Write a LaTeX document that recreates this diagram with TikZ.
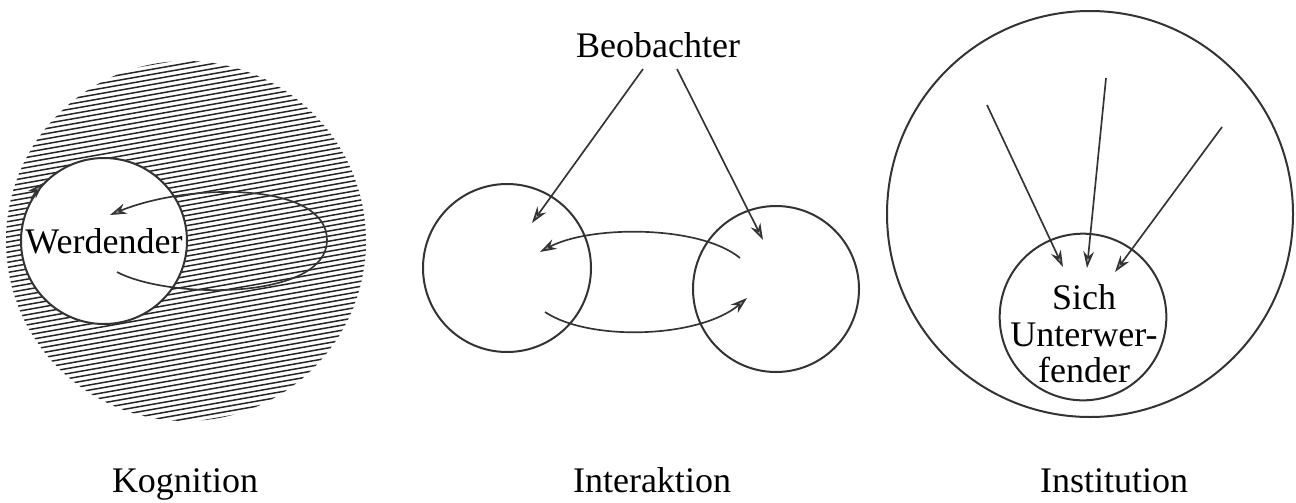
\documentclass[tikz,border=0pt]{standalone}
\usepackage{fontspec}
\setmainfont{Liberation Serif}
\usetikzlibrary{positioning,arrows.meta}

\tikzset{
  disk/.style={circle, draw=black!80, line width=0.6pt, inner sep=0pt},
  arr/.style={draw=black!80, line width=0.5pt,
    -{Stealth[length=5pt,width=3.2pt,fill=black!40]}},
  hatch/.style={draw=black!85, line width=0.45pt},
  lbl/.style={font=\fontsize{10.8}{11}\selectfont, inner sep=0pt}
}

\begin{document}
\begin{tikzpicture}[x=0.3pt,y=-0.3pt]
  \useasboundingbox (0,0) rectangle (1296,502);

  % --- Kognition: hatched field ---
  \begin{scope}
    \clip (186,241) circle (180);
    \begin{scope}[shift={(186,241)}, rotate=10]
      \foreach \k in {-40,...,40} {
        \draw[hatch] (-200,\k*5) -- (200,\k*5);
      }
    \end{scope}
  \end{scope}

  \node[disk, fill=white, minimum size=49.8pt, lbl] (werd) at (104,241) {Werdender};
  \draw[arr] (werd.150) arc[start angle=-150, end angle=-136, radius=83];

  % --- loop back into the self ---
  \coordinate (lpS) at (117,272);
  \coordinate (lpR) at (327,240);
  \coordinate (lpE) at (110,215);
  \draw[arr] (lpS) .. controls (170,300) and (327,300) .. (lpR)
                   .. controls (327,182) and (190,182) .. (lpE);

  % --- Interaktion ---
  \node[lbl, anchor=base] (beob) at (658,57) {Beobachter};
  \node[disk, minimum size=50.4pt] (lc) at (507,268) {};
  \node[disk, minimum size=49.8pt] (rc) at (776,289) {};

  \coordinate (lcT) at (532,223);
  \coordinate (rcT) at (763,240);
  \draw[arr] ([shift={(-15,11)}]beob.south) -- (lcT);
  \draw[arr] ([shift={(19,11)}]beob.south) -- (rcT);

  \coordinate (rcA) at (740,258);
  \coordinate (lcA) at (540,252);
  \coordinate (lcB) at (545,312);
  \coordinate (rcB) at (747,298);
  \draw[arr] (rcA) .. controls (700,225) and (590,225) .. (lcA);
  \draw[arr] (lcB) .. controls (590,342) and (700,338) .. (rcB);

  % --- Institution ---
  \node[disk, minimum size=121.8pt] (inst) at (1090,214) {};
  \node[disk, minimum size=50pt] (sub) at (1083,317) {};
  \node[lbl, align=center] (subtxt) at (1084,334) {Sich\\Unterwer-\\fender};

  \coordinate (src1) at (987,105);
  \coordinate (src2) at (1106,78);
  \coordinate (src3) at (1222,127);
  \coordinate (tip1) at (1063,267);
  \coordinate (tip2) at (1087,268);
  \coordinate (tip3) at (1115,272);
  \foreach \i in {1,2,3} {
    \draw[arr] (src\i) -- (tip\i);
  }

  % --- captions ---
  \node[lbl, anchor=base] (kog) at (185,492) {Kognition};
  \node[lbl, anchor=base] (inter) at (652,492) {Interaktion};
  \node[lbl, anchor=base] (insti) at (1114,492) {Institution};
\end{tikzpicture}
\end{document}
